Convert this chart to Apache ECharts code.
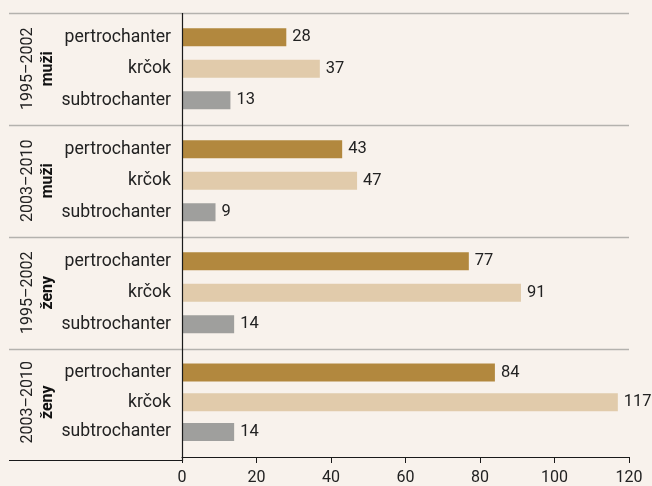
<!DOCTYPE html>
<html><head><meta charset="utf-8">
<script src="https://cdn.jsdelivr.net/npm/echarts@6/dist/echarts.min.js"></script>
<style>html,body{margin:0;padding:0;background:#f8f2ec}#c{width:652px;height:486px}</style>
</head><body><div id="c"></div>
<script>
const categories = ['pertrochanter', 'krčok', 'subtrochanter'];
const groupPeriods = ['1995–2002', '2003–2010', '1995–2002', '2003–2010'];
const groupSexes = ['muži', 'muži', 'ženy', 'ženy'];
const groupValues = [
  [28, 37, 13],
  [43, 47, 9],
  [77, 91, 14],
  [84, 117, 14]
];
const xTicks = [0, 20, 40, 60, 80, 100, 120];
const barColors = ['#b2883e', '#e1cbab', '#9f9f9d'];

const W = 652, L = 182, R = 23, TOP0 = 13, GH = 112, PAD = 8.5, LINE_L = 9;
const font = 'Roboto, "Noto Sans", sans-serif';
const grids = [], xAxes = [], yAxes = [], series = [], graphics = [];
groupValues.forEach((vals, i) => {
  const T = TOP0 + GH * i;
  grids.push({ left: L, right: R, top: T + PAD, height: GH - 2 * PAD - 0.5 });
  const last = i === groupValues.length - 1;
  xAxes.push({
    type: 'value', gridIndex: i, min: xTicks[0], max: xTicks[xTicks.length - 1], interval: 20,
    offset: last ? 10 : 0,
    show: last,
    axisLine: { show: true, lineStyle: { color: '#1a1a1a', width: 1 } },
    axisTick: { show: true, length: 6, lineStyle: { color: '#1a1a1a' } },
    axisLabel: { color: '#222', fontSize: 16, fontFamily: font, margin: 13 },
    splitLine: { show: false }
  });
  yAxes.push({
    type: 'category', gridIndex: i, data: categories, inverse: true,
    axisLine: { show: false }, axisTick: { show: false },
    axisLabel: { color: '#222', fontSize: 17.6, fontFamily: font, margin: 11 },
    name: groupPeriods[i] + '\n{b|' + groupSexes[i] + '}',
    nameLocation: 'middle', nameRotate: 90, nameGap: 124, nameMoveOverlap: false,
    nameTextStyle: { color: '#222', fontSize: 16, fontFamily: font, lineHeight: 20,
      rich: { b: { fontWeight: 'bold', fontSize: 16, fontFamily: font, color: '#111', lineHeight: 20 } } }
  });
  series.push({
    type: 'bar', xAxisIndex: i, yAxisIndex: i, barWidth: 18,
    data: vals.map((v, k) => ({ value: v, itemStyle: { color: barColors[k] } })),
    label: { show: true, position: 'right', distance: 6, color: '#222', fontSize: 16.5, fontFamily: font },
    silent: true
  });
  graphics.push({ type: 'line', z: 5, shape: { x1: LINE_L, y1: T + 0.5, x2: W - R, y2: T + 0.5 },
    style: { stroke: '#b4b2ae', lineWidth: 1.5 } });
});
const bottomY = TOP0 + GH * 4;
graphics.push({ type: 'line', z: 5, shape: { x1: LINE_L, y1: bottomY - 0.5, x2: L, y2: bottomY - 0.5 },
  style: { stroke: '#1a1a1a', lineWidth: 1 } });
graphics.push({ type: 'line', z: 10, shape: { x1: L + 0.5, y1: TOP0, x2: L + 0.5, y2: bottomY },
  style: { stroke: '#1a1a1a', lineWidth: 1.2 } });

const chart = echarts.init(document.getElementById('c'), null, { renderer: 'canvas' });
chart.setOption({
  backgroundColor: '#f8f2ec',
  animation: false,
  textStyle: { fontFamily: font },
  grid: grids, xAxis: xAxes, yAxis: yAxes, series: series, graphic: graphics
});
</script></body></html>
